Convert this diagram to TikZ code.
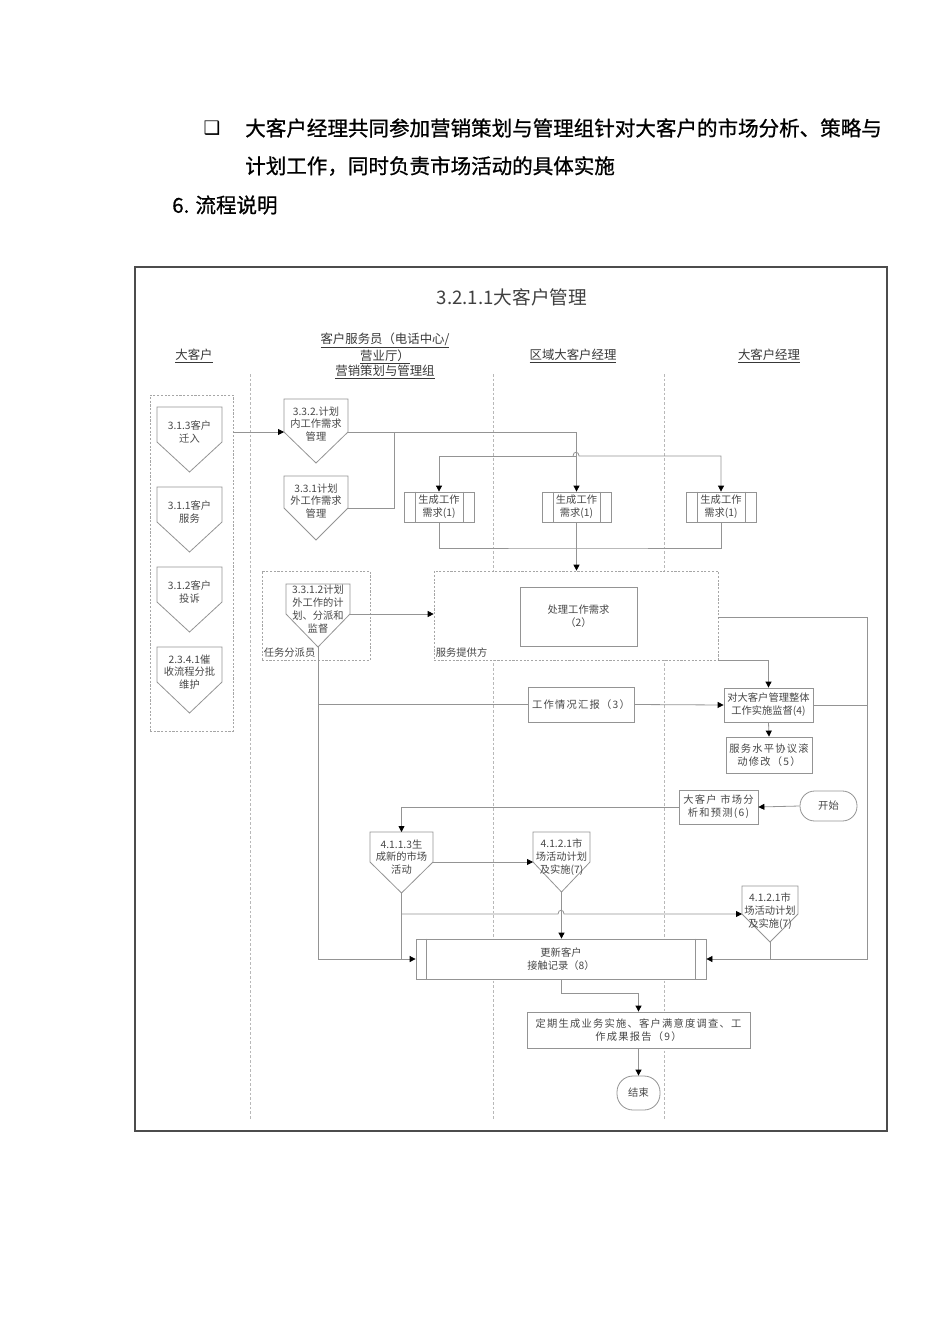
\documentclass[tikz,border=0pt]{standalone}
\usepackage{fontspec}
\newfontfamily\cjk{Noto Sans CJK SC}
\newfontfamily\cjkb[FakeBold=0.8]{Noto Sans CJK SC}
\newfontfamily\dejavu{DejaVu Sans}
\usetikzlibrary{arrows.meta}
\tikzset{
  conn/.style={draw=black!42, line width=0.6pt},
  arr/.style={conn, -{Triangle[length=4.5pt,width=4.5pt,black]}},
  lane/.style={draw=black!28, dash pattern=on 2pt off 1.5pt, line width=0.45pt},
  grpstyle/.style={draw=black!35, fill=white, dash pattern=on 1.6pt off 1.2pt, line width=0.5pt, inner sep=0pt},
  box/.style={draw=black!42, line width=0.6pt, fill=white, font=\cjk\fontsize{7.7}{9.6}\selectfont, text=black!72, align=center, inner sep=1pt},
  shp/.style={draw=black!42, line width=0.6pt, fill=white},
  stxt/.style={font=\cjk\fontsize{7.7}{9.6}\selectfont, text=black!72, align=center, inner sep=0pt},
  hdr/.style={font=\cjk\fontsize{9.3}{11.6}\selectfont, text=black!78, align=center, inner sep=0pt},
  toptxt/.style={font=\cjkb\fontsize{15.4}{18}\selectfont, text=black, anchor=west, inner sep=0pt},
  wide/.style={font=\cjk\fontsize{7.7}{9.6}\selectfont\addfontfeature{LetterSpace=12}},
}
\newcommand\flowbox[7][]{%
  \node[box,#1,minimum width={(#5-#3)*0.75pt},minimum height={(#6-#4)*0.75pt}] (#2) at ({(#3+#5)/2},{(#4+#6)/2}) {#7};}
\newcommand\offpg[7]{%
  \draw[shp] (#2,#4) -- (#3,#4) -- (#3,#5) -- ({(#2+#3)/2},#6) -- (#2,#5) -- cycle;
  \coordinate (#1W) at (#2,#5);
  \coordinate (#1E) at (#3,#5);
  \coordinate (#1N) at ({(#2+#3)/2},#4);
  \coordinate (#1S) at ({(#2+#3)/2},#6);
  \node[stxt] (#1) at ({(#2+#3)/2},{#4+25}) {#7};}
\begin{document}
\begin{tikzpicture}[x=0.75pt,y=-0.75pt]
\useasboundingbox (0,0) rectangle (950,1344);
% ---- text above the figure
\node[font=\dejavu\bfseries\fontsize{14}{14}\selectfont, inner sep=0pt] (bul) at (212,128) {❑};
\node[toptxt] (l1) at (245,128) {大客户经理共同参加营销策划与管理组针对大客户的市场分析、策略与};
\node[toptxt] (l2) at (245,166) {计划工作，同时负责市场活动的具体实施};
\node[toptxt] (l3) at (172,205) {6. 流程说明};
% ---- frame
\draw[draw=black!70, line width=0.8pt] (135,267) rectangle (887,1131);
\node[font=\cjk\fontsize{14}{16}\selectfont, text=black!75, inner sep=0pt] (title) at (512,297) {3.2.1.1大客户管理};
% ---- lane headers
\node[hdr] (h1) at (194,356) {\underline{大客户}};
\node[hdr] (h2) at (385,356) {\underline{客户服务员（电话中心/}\\\underline{营业厅）}\\\underline{营销策划与管理组}};
\node[hdr] (h3) at (573,356) {\underline{区域大客户经理}};
\node[hdr] (h4) at (769,356) {\underline{大客户经理}};
% ---- lanes
\draw[lane] (250,374) -- (250,1120);
\draw[lane] (493,374) -- (493,1120);
\draw[lane] (664,374) -- (664,1120);
% ---- groups
\flowbox[grpstyle]{grp}{150}{395}{233}{731}{}
\flowbox[grpstyle]{task}{262}{571}{370}{660}{}
\flowbox[grpstyle]{svc}{434}{571}{718}{660}{}
\node[stxt, anchor=south west] (taskl) at ([xshift=1.5pt,yshift=2pt]task.south west) {任务分派员};
\node[stxt, anchor=south west] (svcl) at ([xshift=1.5pt,yshift=2pt]svc.south west) {服务提供方};
% ---- left column shapes
\offpg{pA}{157}{222}{407}{442}{472}{3.1.3客户\\迁入}
\offpg{pB}{157}{222}{487}{522}{552}{3.1.1客户\\服务}
\offpg{pC}{157}{222}{567}{602}{632}{3.1.2客户\\投诉}
\offpg{pD}{157}{222}{647}{682}{713}{2.3.4.1催\\收流程分批\\维护}
% ---- second column shapes
\offpg{pE}{284}{348}{399}{432}{463}{3.3.2.计划\\内工作需求\\管理}
\offpg{pF}{284}{348}{476}{508}{540}{3.3.1计划\\外工作需求\\管理}
\offpg{pG}{286}{350}{584}{614}{647}{3.3.1.2计划\\外工作的计\\划、分派和\\监督}
% ---- generate boxes
\flowbox{gen1}{404}{492}{474}{522}{生成工作\\需求(1)}
\flowbox{gen2}{542}{492}{611}{522}{生成工作\\需求(1)}
\flowbox{gen3}{686}{492}{756}{522}{生成工作\\需求(1)}
\foreach \g in {gen1,gen2,gen3}{
  \draw[conn] ([xshift=8.5pt]\g.north west) -- ([xshift=8.5pt]\g.south west);
  \draw[conn] ([xshift=-8.5pt]\g.north east) -- ([xshift=-8.5pt]\g.south east);
}
\flowbox{proc}{520}{587}{637}{646}{处理工作需求\\（2）}
\flowbox[wide]{rep}{528}{687}{634}{722}{工作情况汇报（3）}
\flowbox{sup}{724}{688}{813}{722}{对大客户管理整体\\工作实施监督(4)}
\flowbox[wide]{sla}{726}{737}{812}{773}{服务水平协议滚\\动修改（5）}
\flowbox[wide]{ana}{679}{790}{758}{824}{大客户 市场分\\析和预测(6)}
\flowbox[rounded corners=11pt]{start}{800}{791}{857}{821}{开始}
% ---- marketing shapes
\offpg{pH}{370}{433}{832}{862}{893}{4.1.1.3生\\成新的市场\\活动}
\offpg{pI}{533}{590}{832}{862}{892}{4.1.2.1市\\场活动计划\\及实施(7)}
\offpg{pJ}{742}{798}{886}{914}{942}{4.1.2.1市\\场活动计划\\及实施(7)}
\flowbox{upd}{416}{939}{706}{979}{更新客户\\接触记录（8）}
\draw[conn] ([xshift=8.25pt]upd.north west) -- ([xshift=8.25pt]upd.south west);
\draw[conn] ([xshift=-8.25pt]upd.north east) -- ([xshift=-8.25pt]upd.south east);
\flowbox[wide]{rpt}{527}{1012}{750}{1048}{定期生成业务实施、客户满意度调查、工\\作成果报告（9）}
\flowbox[rounded corners=12pt]{fin}{617}{1076}{660}{1110}{结束}
% ---- connectors
\coordinate (jA) at (394,432);
\coordinate (bT) at (576,456);
\coordinate (bB) at (576,548);
\coordinate (rT) at (867,617);
\draw[arr] (grp.east |- pEW) -- (pEW);
\draw[arr] (pEE) -| (gen2.north);
\draw[conn] (pFE) -| (jA);
\draw[arr] (bT) -| (gen1.north);
\draw[arr] (573,456) .. controls (573,451) and (579,451) .. (579,456) -| (gen3.north);
\draw[conn] (bT) -- (573,456);
\draw[conn] (gen1.south) |- (bB) -| (gen3.south);
\draw[arr] (gen2.south) -- (gen2.south |- svc.north);
\draw[arr] (pGE) -- (svc.west |- pGE);
\draw[arr] (svc.east |- rT) -- (rT) |- (upd.east);
\draw[arr] (svc.south east) -| (sup.north);
\draw[conn] (sup.east) -- (sup.east -| rT);
\draw[arr] (pGS) |- (upd.west);
\draw[conn] (pGS |- rep.west) -- (rep.west);
\draw[arr] (rep.east) -- (sup.west);
\draw[arr] (sup.south) -- (sla.north);
\draw[arr] (start.west) -- (ana.east);
\draw[arr] (ana.west) -| (pHN);
\draw[arr] (pHE) -- (pIW);
\draw[conn] (pHS) -- (pHS |- upd.west);
\draw[arr] (pHS |- pJW) -- (558,914) .. controls (558,909) and (564,909) .. (564,914) -- (pJW);
\draw[arr] (pIS) -- (pIS |- upd.north);
\draw[conn] (pJS) -- (pJS |- upd.east);
\draw[arr] (upd.south) -- ++(0,14) -| (rpt.north);
\draw[arr] (rpt.south) -- (fin.north);
\end{tikzpicture}
\end{document}
